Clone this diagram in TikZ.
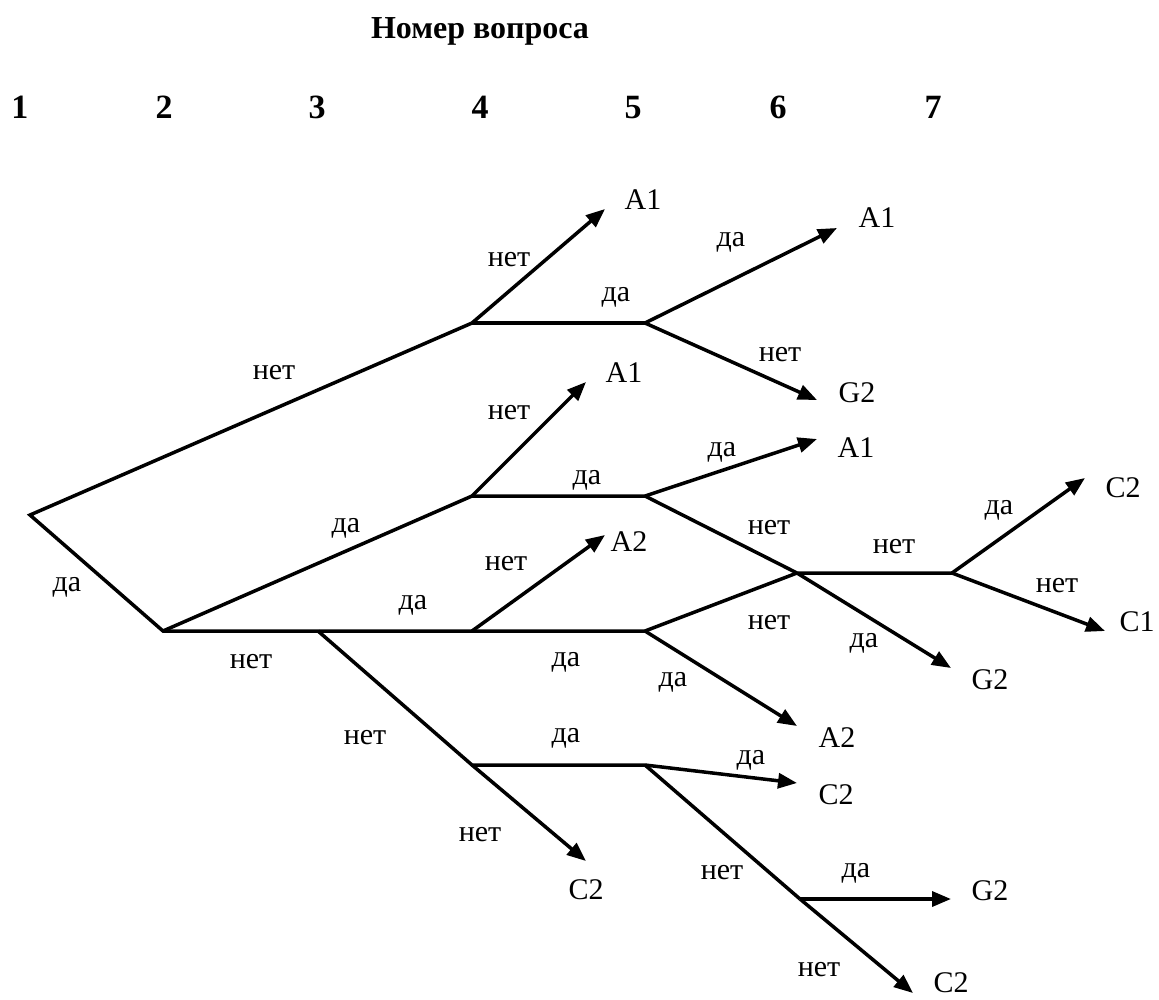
\documentclass[tikz,border=0pt]{standalone}
\usepackage{fontspec}
\setmainfont{Liberation Serif}
\usetikzlibrary{arrows.meta}
\begin{document}
\begin{tikzpicture}[x=1pt,y=-1pt,
  br/.style={line width=3.5pt, line join=miter},
  arr/.style={line width=3.5pt, -{Triangle[length=19pt,width=15pt]}},
  lbl/.style={font=\fontsize{30}{33}\selectfont, inner sep=0pt},
  leaf/.style={font=\fontsize{30}{33}\selectfont, inner sep=0pt},
  hdr/.style={font=\bfseries\fontsize{32}{36}\selectfont, inner sep=0pt, anchor=base},
  num/.style={font=\bfseries\fontsize{34}{38}\selectfont, inner sep=0pt, anchor=base}]
\useasboundingbox (0,0) rectangle (1159,999);

% header
\node[hdr] (title) at (480,38) {Номер вопроса};
\node[num] (q1) at (20,118) {1};
\node[num] (q2) at (164,118) {2};
\node[num] (q3) at (317,118) {3};
\node[num] (q4) at (480,118) {4};
\node[num] (q5) at (633,118) {5};
\node[num] (q6) at (778,118) {6};
\node[num] (q7) at (933,118) {7};

% junctions
\coordinate (R) at (30,515);
\coordinate (N2) at (163,631);
\coordinate (N3) at (318,631);
\coordinate (N4a) at (472,323);
\coordinate (N5a) at (645,323);
\coordinate (N4b) at (472,496);
\coordinate (N5b) at (645,496);
\coordinate (N4c) at (472,631);
\coordinate (N5c) at (645,631);
\coordinate (N6) at (797,573);
\coordinate (N7) at (952,573);
\coordinate (N4d) at (472,765);
\coordinate (N5d) at (645,765);
\coordinate (N6d) at (800,899);

% arrow tips
\coordinate (t1) at (605,209);
\coordinate (t2) at (837,228);
\coordinate (t3) at (817,400);
\coordinate (t4) at (586,382);
\coordinate (t5) at (817,439);
\coordinate (t6) at (605,535);
\coordinate (t7) at (1085,478);
\coordinate (t8) at (1105,631);
\coordinate (t9) at (951,668);
\coordinate (t10) at (797,726);
\coordinate (t11) at (586,861);
\coordinate (t12) at (797,783);
\coordinate (t13) at (951,899);
\coordinate (t14) at (913,993);

% branches
\draw[br] (N4a) -- (R) -- (N2) -- (N3) -- (N4c) -- (N5c);
\draw[br] (N2) -- (N4b) -- (N5b);
\draw[br] (N4a) -- (N5a);
\draw[br] (N5b) -- (N6) -- (N7);
\draw[br] (N5c) -- (N6);
\draw[br] (N3) -- (N4d) -- (N5d);
\draw[br] (N5d) -- (N6d);

% arrows
\draw[arr] (N4a) -- (t1);
\draw[arr] (N5a) -- (t2);
\draw[arr] (N5a) -- (t3);
\draw[arr] (N4b) -- (t4);
\draw[arr] (N5b) -- (t5);
\draw[arr] (N4c) -- (t6);
\draw[arr] (N7) -- (t7);
\draw[arr] (N7) -- (t8);
\draw[arr] (N6) -- (t9);
\draw[arr] (N5c) -- (t10);
\draw[arr] (N4d) -- (t11);
\draw[arr] (N5d) -- (t12);
\draw[arr] (N6d) -- (t13);
\draw[arr] (N6d) -- (t14);

% leaves
\node[leaf] (e1) at (643,200) {A1};
\node[leaf] (e2) at (877,218) {A1};
\node[leaf] (e3) at (857,393) {G2};
\node[leaf] (e4) at (624,373) {A1};
\node[leaf] (e5) at (856,448) {A1};
\node[leaf] (e6) at (629,542) {A2};
\node[leaf] (e7) at (1123,488) {C2};
\node[leaf] (e8) at (1137,622) {C1};
\node[leaf] (e9) at (990,680) {G2};
\node[leaf] (e10) at (837,738) {A2};
\node[leaf] (e11) at (586,890) {C2};
\node[leaf] (e12) at (836,795) {C2};
\node[leaf] (e13) at (990,891) {G2};
\node[leaf] (e14) at (951,983) {C2};

% edge labels
\node[lbl] (l1) at (274,373) {нет};
\node[lbl] (l2) at (67,587) {да};
\node[lbl] (l3) at (346,528) {да};
\node[lbl] (l4) at (251,662) {нет};
\node[lbl] (l5) at (413,605) {да};
\node[lbl] (l6) at (365,738) {нет};
\node[lbl] (l7) at (509,260) {нет};
\node[lbl] (l8) at (616,297) {да};
\node[lbl] (l9) at (731,242) {да};
\node[lbl] (l10) at (780,355) {нет};
\node[lbl] (l11) at (509,413) {нет};
\node[lbl] (l12) at (587,480) {да};
\node[lbl] (l13) at (722,452) {да};
\node[lbl] (l14) at (769,528) {нет};
\node[lbl] (l15) at (894,547) {нет};
\node[lbl] (l16) at (999,510) {да};
\node[lbl] (l17) at (1057,586) {нет};
\node[lbl] (l18) at (506,564) {нет};
\node[lbl] (l19) at (566,662) {да};
\node[lbl] (l20) at (769,623) {нет};
\node[lbl] (l21) at (864,643) {да};
\node[lbl] (l22) at (673,682) {да};
\node[lbl] (l23) at (566,738) {да};
\node[lbl] (l24) at (480,835) {нет};
\node[lbl] (l25) at (751,760) {да};
\node[lbl] (l26) at (722,873) {нет};
\node[lbl] (l27) at (856,873) {да};
\node[lbl] (l28) at (819,970) {нет};
\end{tikzpicture}
\end{document}
